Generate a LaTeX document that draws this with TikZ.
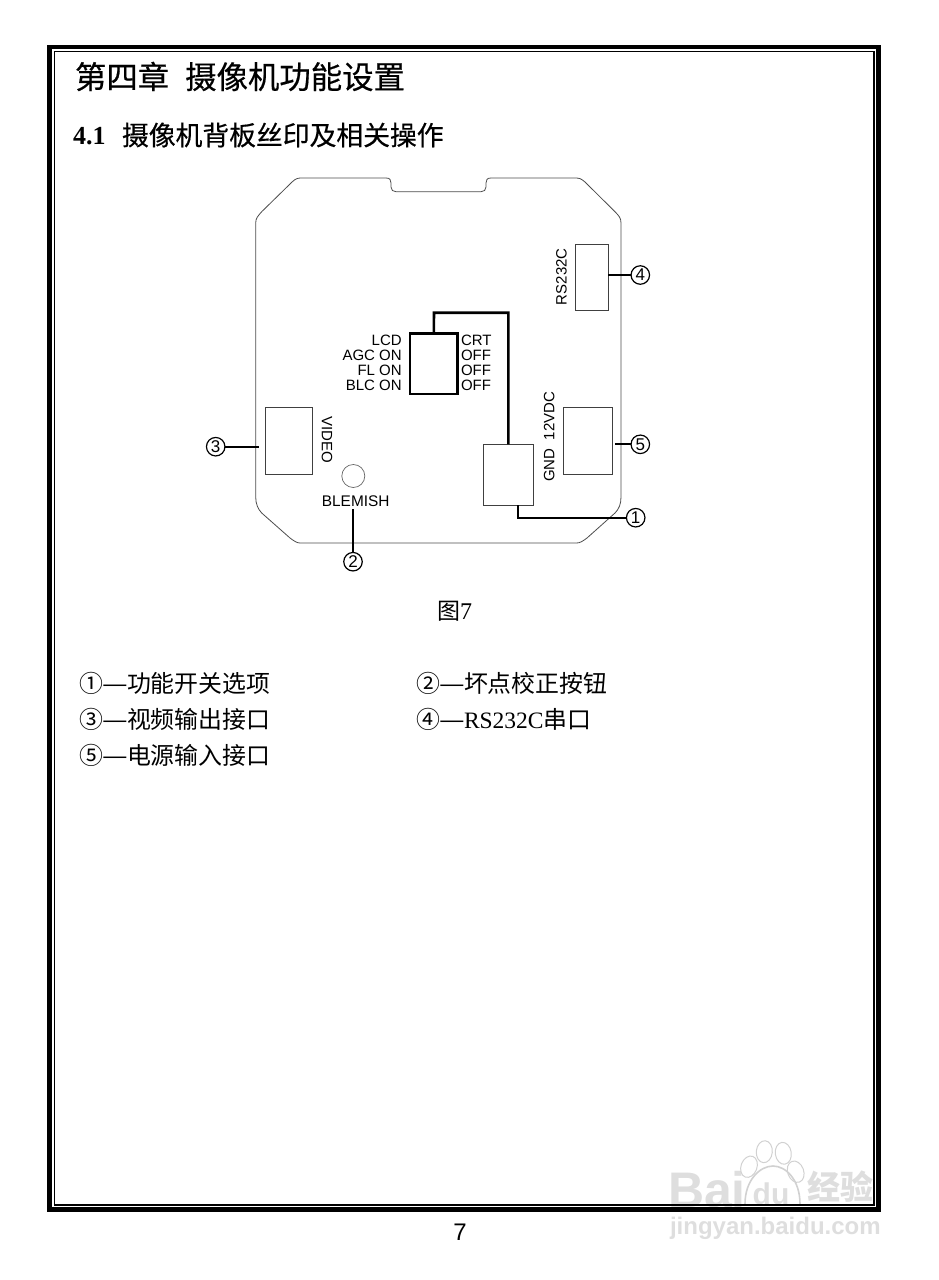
\documentclass[tikz,border=0pt]{standalone}
\usepackage{fontspec}
\setmainfont{Liberation Serif}
\newfontfamily\cjk{Noto Sans CJK SC}
\newfontfamily\cjkh[FakeBold=0.5]{Noto Sans CJK SC}
\newfontfamily\arial{Liberation Sans}
\newcommand{\fsz}[1]{\fontsize{#1}{#1}\selectfont}
\newcommand{\cnum}[1]{\makebox[24pt][l]{#1}\makebox[24pt]{\scalebox{1.2}[1]{—}}}
\tikzset{
  x=1pt,y=-1pt,
  txt/.style={inner sep=0pt,outer sep=0pt,text=black},
  silk/.style={txt,font=\arial\fsz{15}},
  part/.style={draw=black!75,line width=0.8pt,inner sep=0pt,outer sep=0pt},
  callout/.style={circle,draw=black,line width=1.2pt,fill=white,minimum size=18.5pt,inner sep=0pt,outer sep=0pt,font=\arial\fsz{17}},
  lead/.style={draw=black,line width=1.8pt},
  heavy/.style={draw=black,line width=2.6pt},
  keytxt/.style={txt,anchor=west,font=\cjk\fsz{23.9}},
  wm/.style={txt,text=black!13,font=\arial\bfseries\fsz{#1}}
}
\begin{document}
\begin{tikzpicture}
\useasboundingbox (0,0) rectangle (939,1280);
% watermark
\node[wm=50,anchor=west] (wmba) at (668,1190) {Bai};
\draw[black!18,line width=1.6pt] (745,1204) .. controls (745,1180) and (760,1166) .. (773,1166) .. controls (786,1166) and (800,1180) .. (800,1204);
\node[wm=30] (wmdu) at (771,1194) {du};
\foreach \n/\a/\b/\r in {a/749/1166.7/-20,b/764.3/1151.7/-5,c/783.3/1153.3/8,d/795.7/1171.7/20}
  \draw[black!18,line width=1pt,rotate around={\r:(\a,\b)}] (\a,\b) ellipse (8 and 11);
\node[wm=33,anchor=west] (wmjy) at (807,1187) {\cjk 经验};
\node[wm=24,anchor=west] (wmurl) at (670,1228) {jingyan.baidu.com};
% page frame
\draw[black,line width=4.6pt] (49.5,47) rectangle (878.5,1209.5);
\draw[black,line width=1.2pt] (54.5,51.5) rectangle (874,1205);
% headings
\node[txt,anchor=west,font=\cjkh\fsz{31.4}] (chap) at (75,76.5) {第四章\hspace{16pt}摄像机功能设置};
\node[txt,anchor=base west,font=\bfseries\fsz{26}] (secnum) at (73,144) {4.1};
\node[txt,anchor=west,font=\cjkh\fsz{26.8}] (sec) at (122,135) {摄像机背板丝印及相关操作};
% board outline
\draw[black!70,line width=0.8pt]
  (300,178) -- (386,178) .. controls (390,178) and (391,180) .. (391,183) -- (391,187) .. controls (391,190) and (393,191.7) .. (396,191.7)
  -- (481,191.7) .. controls (484,191.7) and (486,190) .. (486,187) -- (486,183) .. controls (486,180) and (487,178) .. (491,178)
  -- (576.7,178) .. controls (581,178) and (584,181) .. (587,184) -- (615,211.7) .. controls (619,216) and (621,218) .. (621,223)
  -- (621,497) .. controls (621,504) and (619,509) .. (615,513) -- (587,538) .. controls (583,541) and (580,543) .. (576.7,543)
  -- (300,543) .. controls (297,543) and (294,541) .. (290,538) -- (261.7,513) .. controls (258,509) and (255.7,504) .. (255.7,497)
  -- (255.7,223) .. controls (255.7,218) and (258,216) .. (261.7,211.7) -- (290,184) .. controls (293,181) and (296,178) .. (300,178) -- cycle;
% parts
\node[part,minimum width=32.6pt,minimum height=66pt] (rsbox) at (592,277.3) {};
\node[heavy,draw,inner sep=0pt,outer sep=0pt,minimum width=47.7pt,minimum height=60.7pt] (switch) at (433.8,363.7) {};
\node[part,minimum width=47.7pt,minimum height=67pt] (videobox) at (288.8,440.8) {};
\node[part,minimum width=49pt,minimum height=67pt] (powerbox) at (588.2,440.8) {};
\node[part,minimum width=50.4pt,minimum height=61pt] (funcbox) at (508.5,474.8) {};
\node[circle,draw=black!60,line width=0.7pt,minimum size=23pt,inner sep=0pt] (button) at (353.3,476) {};
% silk labels
\node[silk,anchor=east] (lcd) at (401.7,340.7) {LCD};
\node[silk,anchor=east] (agc) at (401.7,355.3) {AGC ON};
\node[silk,anchor=east] (fl) at (401.7,370) {FL ON};
\node[silk,anchor=east] (blc) at (401.7,385) {BLC ON};
\node[silk,anchor=west] (crt) at (461,340.7) {CRT};
\node[silk,anchor=west] (off1) at (461,355.3) {OFF};
\node[silk,anchor=west] (off2) at (461,370) {OFF};
\node[silk,anchor=west] (off3) at (461,385) {OFF};
\node[silk,rotate=-90] (video) at (327,440) {VIDEO};
\node[silk,rotate=90] (gnd) at (549.3,436.7) {GND\ \ 12VDC};
\node[silk,rotate=90] (rs) at (561.5,276.7) {RS232C};
\node[silk,font=\arial\fsz{15.4}] (blemish) at (355.7,501) {BLEMISH};
% callouts
\node[callout] (c1) at (635.7,517.7) {1};
\node[callout] (c2) at (353,561.7) {2};
\node[callout] (c3) at (215.7,446.7) {3};
\node[callout] (c4) at (640.3,275) {4};
\node[callout] (c5) at (640.3,444.3) {5};
% connectors
\coordinate (j1) at (518.3,517.7);
\coordinate (w1) at (434,312.7);
\coordinate (w2) at (508.3,312.7);
\draw[lead] (c4.west) -- (c4.west -| rsbox.east);
\draw[lead,shorten >=2pt] (c5.west) -- (c5.west -| powerbox.east);
\draw[lead,shorten >=5.7pt] (c3.east) -- (c3.east -| videobox.west);
\draw[lead,shorten >=3pt] (c2.north) -- (c2.north |- blemish.south);
\draw[lead] (c1.west) -- (j1) -- (j1 |- funcbox.south);
\draw[heavy,line join=miter] (switch.north) -- (w1) -- (w2) -- (w2 |- funcbox.north);
% caption and key
\node[txt,anchor=west,font=\fsz{24}] (fig) at (437,611) {{\cjk\fsz{23}图}7};
\node[keytxt] (k1) at (79,683) {\cnum{①}功能开关选项};
\node[keytxt] (k2) at (416,683) {\cnum{②}坏点校正按钮};
\node[keytxt] (k3) at (79,719) {\cnum{③}视频输出接口};
\node[keytxt] (k4) at (416,719) {\cnum{④}{\rmfamily\fsz{23.5}RS232C}串口};
\node[keytxt] (k5) at (79,755) {\cnum{⑤}电源输入接口};
\node[txt,font=\arial\fsz{24}] (page) at (460,1232.5) {7};
\end{tikzpicture}
\end{document}
